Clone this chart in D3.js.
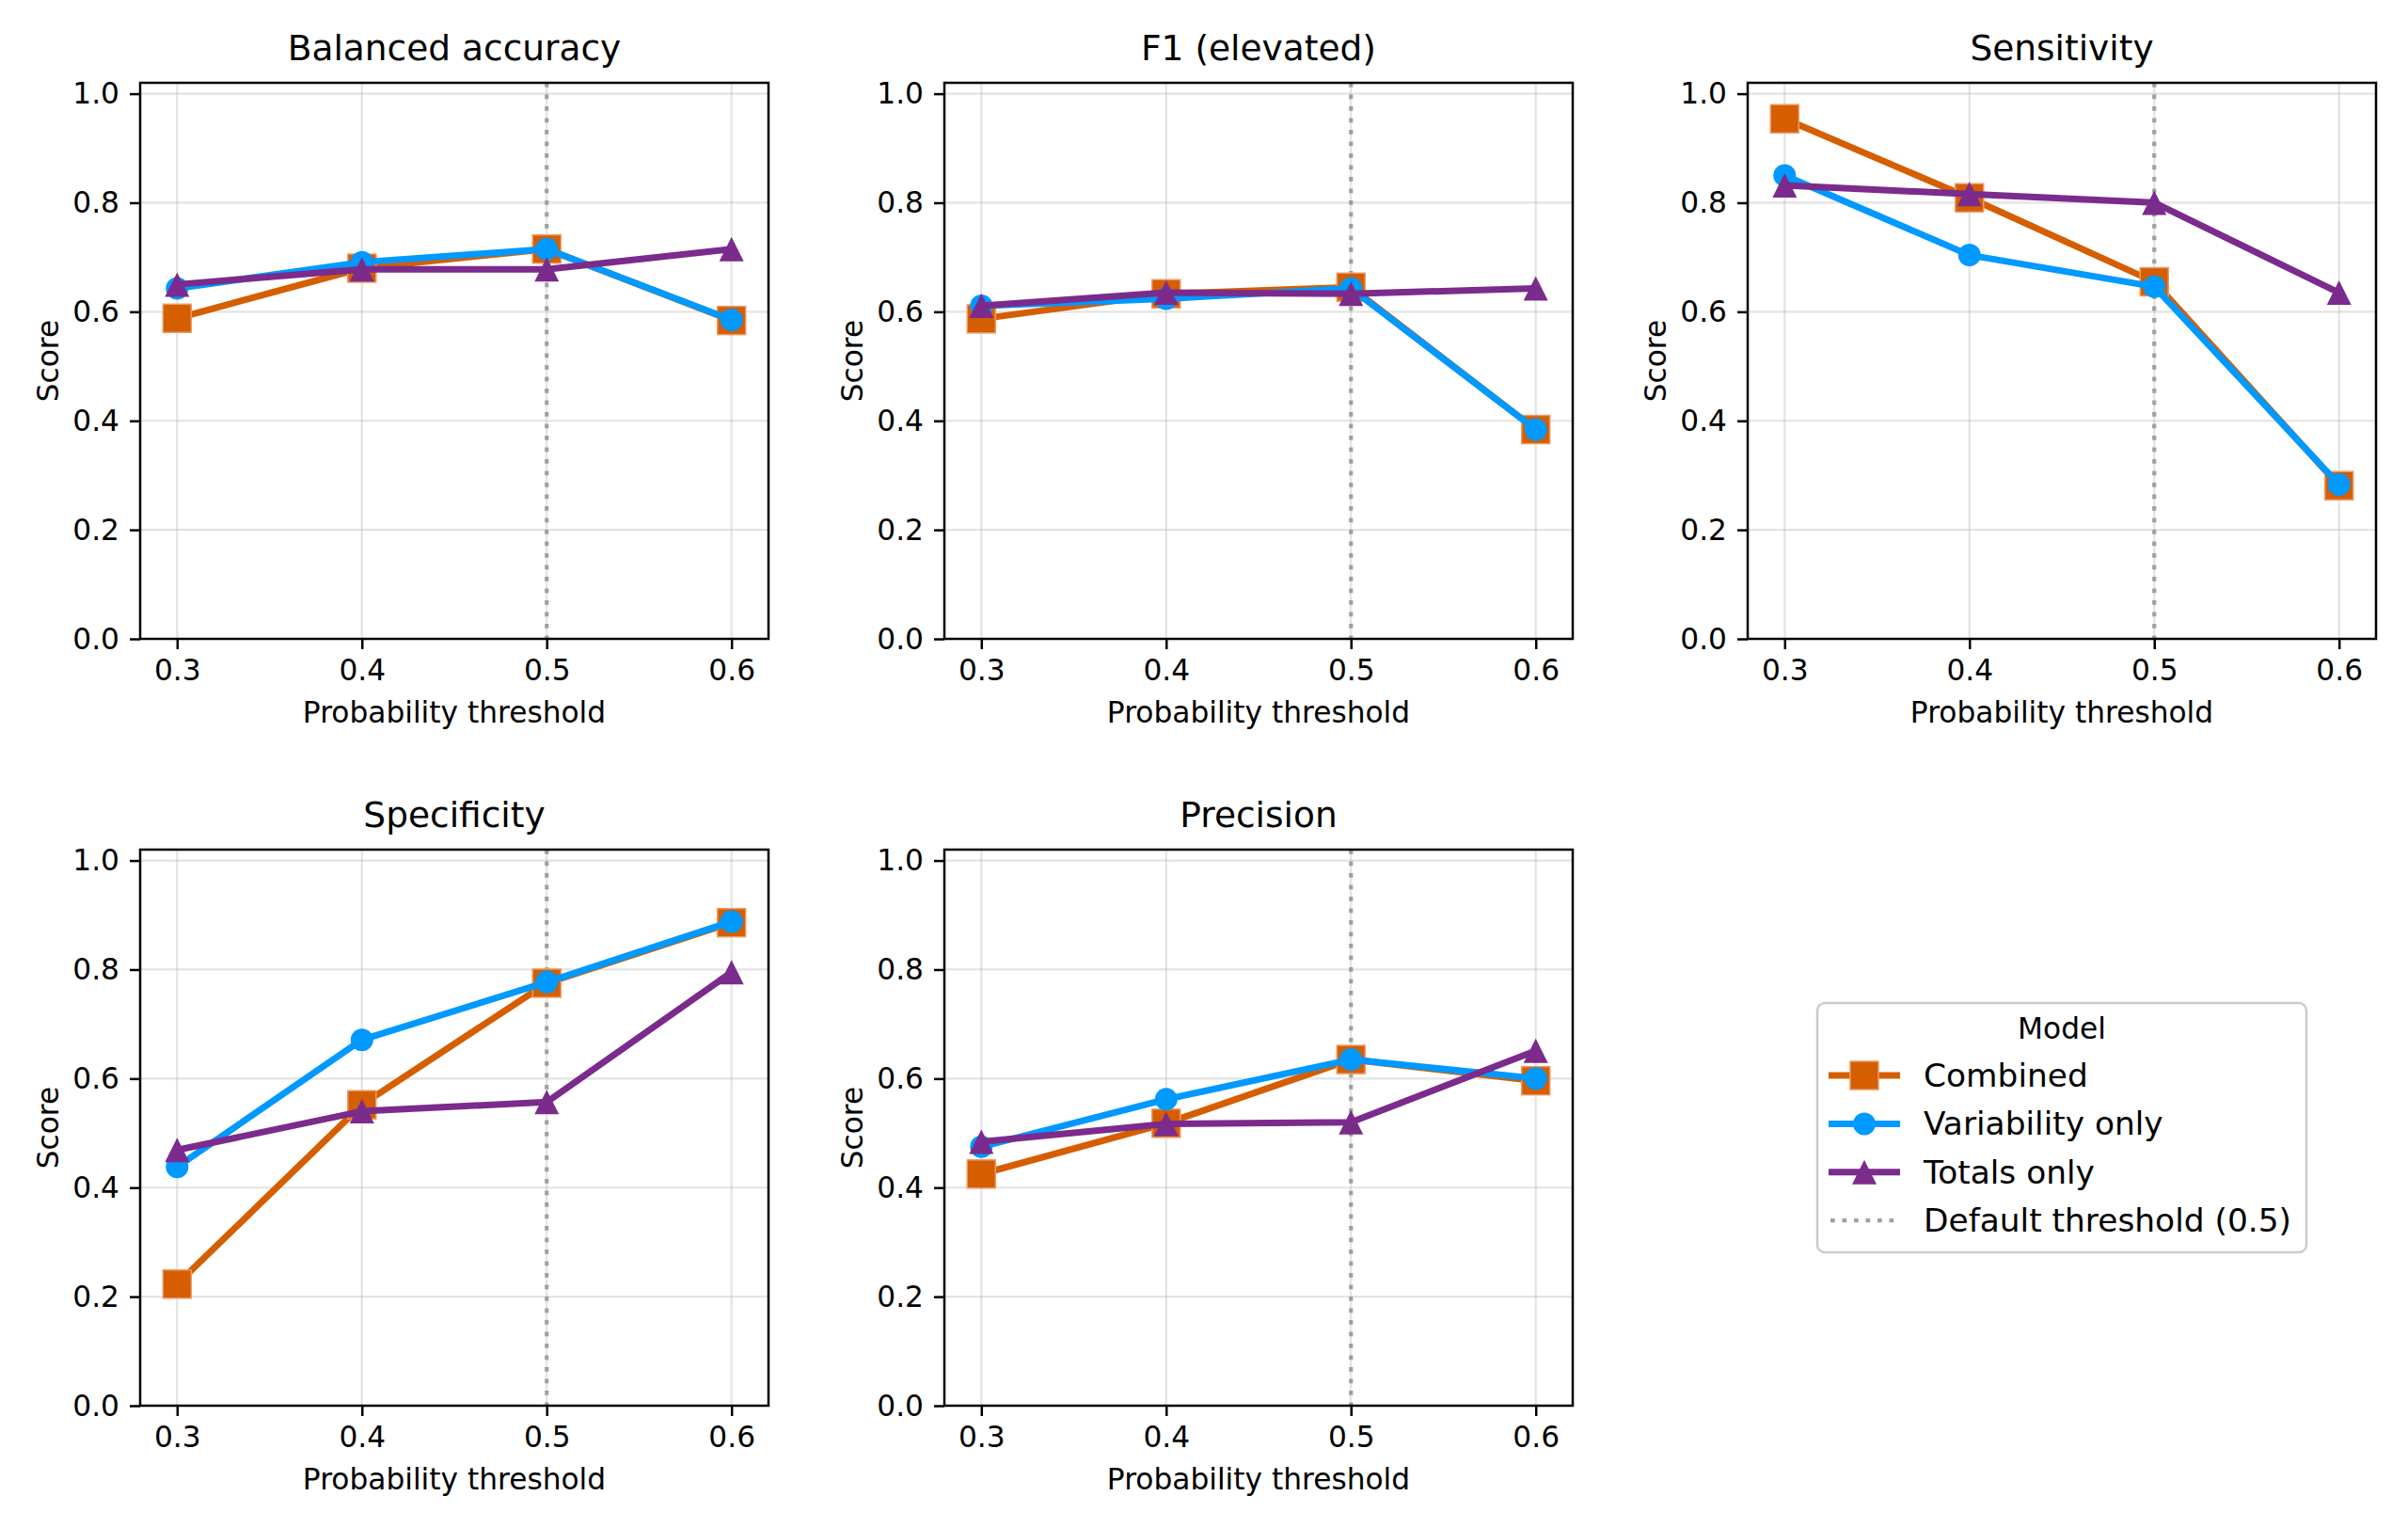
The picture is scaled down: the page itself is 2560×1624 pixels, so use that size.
<!DOCTYPE html>
<html>
<head>
<meta charset="utf-8">
<script src="https://cdn.jsdelivr.net/npm/d3@7"></script>
<style>
  body { margin: 0; background: #fff; }
  text { font-family: "DejaVu Sans", sans-serif; fill: #000; }
</style>
</head>
<body>
<svg id="chart" width="2560" height="1624"></svg>
<script>
// thresholds on the x axis
var thresholds = [0.3, 0.4, 0.5, 0.6]
var xTicks = [0.3, 0.4, 0.5, 0.6]
var yTicks = [0.0, 0.2, 0.4, 0.6, 0.8, 1.0]
var defaultThreshold = 0.5

var metrics = ["Balanced accuracy", "F1 (elevated)", "Sensitivity", "Specificity", "Precision"]

// one row per metric, one value per threshold
var combined = [
  [0.588, 0.680, 0.715, 0.584],
  [0.587, 0.633, 0.645, 0.384],
  [0.954, 0.809, 0.655, 0.281],
  [0.223, 0.552, 0.775, 0.886],
  [0.425, 0.518, 0.635, 0.596]
]
var variability = [
  [0.643, 0.691, 0.715, 0.585],
  [0.611, 0.624, 0.643, 0.384],
  [0.850, 0.704, 0.646, 0.283],
  [0.438, 0.671, 0.777, 0.888],
  [0.475, 0.562, 0.635, 0.600]
]
var totals = [
  [0.650, 0.678, 0.678, 0.715],
  [0.611, 0.635, 0.633, 0.643],
  [0.832, 0.816, 0.800, 0.635],
  [0.469, 0.540, 0.557, 0.795],
  [0.484, 0.517, 0.520, 0.651]
]

var seriesNames = ["Combined", "Variability only", "Totals only"]
var seriesValues = [combined, variability, totals]
var seriesColors = ["#d55e00", "#0099ff", "#7b2b8c"]
var seriesMarkers = ["square", "circle", "triangle"]

var svg = d3.select("#chart")
svg.append("rect").attr("width", 2560).attr("height", 1624).attr("fill", "#fff")

var colLeft = [149, 1004, 1858]
var rowTop = [88, 903]
var plotW = 668, plotH = 591
var tickFont = 31.25

var x = d3.scaleLinear().domain([0.28, 0.62]).range([0, plotW])
var y = d3.scaleLinear().domain([0, 1.02]).range([plotH, 0])

function drawMarker(sel, kind, color) {
  if (kind == "square") {
    sel.append("rect")
      .attr("x", -15).attr("y", -15)
      .attr("width", 30).attr("height", 30)
      .attr("fill", color)
      .attr("stroke", "#ec9a66")
      .attr("stroke-width", 1.5)
  } else if (kind == "circle") {
    sel.append("circle")
      .attr("r", 12)
      .attr("fill", color)
  } else {
    sel.append("path")
      .attr("d", "M0,-13L13,13L-13,13Z")
      .attr("fill", color)
  }
}

metrics.forEach(function(name, m) {
  var ox = colLeft[m % 3], oy = rowTop[Math.floor(m / 3)]
  var g = svg.append("g").attr("transform", `translate(${ox},${oy})`)

  // grid
  g.append("g").selectAll("line.vg")
    .data(xTicks).enter().append("line")
    .attr("x1", d => x(d)).attr("x2", d => x(d))
    .attr("y1", 0).attr("y2", plotH)
    .attr("stroke", "#b0b0b0").attr("stroke-opacity", 0.35).attr("stroke-width", 2.2)
  g.append("g").selectAll("line.hg")
    .data(yTicks).enter().append("line")
    .attr("x1", 0).attr("x2", plotW)
    .attr("y1", d => y(d)).attr("y2", d => y(d))
    .attr("stroke", "#b0b0b0").attr("stroke-opacity", 0.35).attr("stroke-width", 2.2)

  // default threshold
  g.append("line")
    .attr("x1", x(defaultThreshold)).attr("x2", x(defaultThreshold))
    .attr("y1", 0).attr("y2", plotH)
    .attr("stroke", "#a0a0a0").attr("stroke-width", 4.2)
    .attr("stroke-dasharray", "4.7,7.8")

  // series
  var line = d3.line().x((d, i) => x(thresholds[i])).y(d => y(d))
  seriesValues.forEach(function(vals, s) {
    var row = vals[m]
    g.append("path")
      .attr("d", line(row))
      .attr("fill", "none")
      .attr("stroke", seriesColors[s])
      .attr("stroke-width", 7)
      .attr("stroke-linejoin", "round")
    row.forEach(function(v, i) {
      var mk = g.append("g").attr("transform", `translate(${x(thresholds[i])},${y(v)})`)
      drawMarker(mk, seriesMarkers[s], seriesColors[s])
    })
  })

  // axes
  var xa = g.append("g").attr("transform", `translate(0,${plotH})`)
    .call(d3.axisBottom(x).tickValues(xTicks).tickFormat(d3.format(".1f"))
      .tickSize(11).tickPadding(11).tickSizeOuter(0))
  var ya = g.append("g")
    .call(d3.axisLeft(y).tickValues(yTicks).tickFormat(d3.format(".1f"))
      .tickSize(11).tickPadding(11).tickSizeOuter(0))
  ;[xa, ya].forEach(a => {
    a.select(".domain").remove()
    a.selectAll("line").attr("stroke", "#000").attr("stroke-width", 2.5)
    a.selectAll("text").attr("font-size", tickFont).attr("font-family", "DejaVu Sans").attr("fill", "#000")
  })

  // spines
  g.append("rect")
    .attr("width", plotW).attr("height", plotH)
    .attr("fill", "none").attr("stroke", "#000").attr("stroke-width", 2.5)

  // labels
  g.append("text")
    .attr("x", plotW / 2).attr("y", -24)
    .attr("text-anchor", "middle")
    .attr("font-size", 37.5)
    .text(name)
  g.append("text")
    .attr("x", plotW / 2).attr("y", plotH + 89)
    .attr("text-anchor", "middle")
    .attr("font-size", tickFont)
    .text("Probability threshold")
  g.append("text")
    .attr("transform", `translate(-87,${plotH / 2}) rotate(-90)`)
    .attr("text-anchor", "middle")
    .attr("font-size", tickFont)
    .text("Score")
})

// legend
var lg = svg.append("g").attr("transform", "translate(1932,1066)")
lg.append("rect")
  .attr("width", 520).attr("height", 265).attr("rx", 8)
  .attr("fill", "#fff").attr("fill-opacity", 0.8)
  .attr("stroke", "#cccccc").attr("stroke-width", 2.5)
lg.append("text")
  .attr("x", 260).attr("y", 38)
  .attr("text-anchor", "middle")
  .attr("font-size", tickFont)
  .text("Model")

var legendNames = seriesNames.concat(["Default threshold (0.5)"])
legendNames.forEach(function(name, i) {
  var cy = 77 + i * 51.4
  var row = lg.append("g").attr("transform", `translate(0,${cy})`)
  if (i < 3) {
    row.append("line")
      .attr("x1", 12).attr("x2", 88).attr("y1", 0).attr("y2", 0)
      .attr("stroke", seriesColors[i]).attr("stroke-width", 7)
    var mk = row.append("g").attr("transform", "translate(50,0)")
    drawMarker(mk, seriesMarkers[i], seriesColors[i])
  } else {
    row.append("line")
      .attr("x1", 14).attr("x2", 88).attr("y1", 0).attr("y2", 0)
      .attr("stroke", "#a0a0a0").attr("stroke-width", 4.2)
      .attr("stroke-dasharray", "4.7,7.8")
  }
  row.append("text")
    .attr("x", 113).attr("y", 12)
    .attr("font-size", 34.4)
    .text(name)
})
</script>
</body>
</html>
